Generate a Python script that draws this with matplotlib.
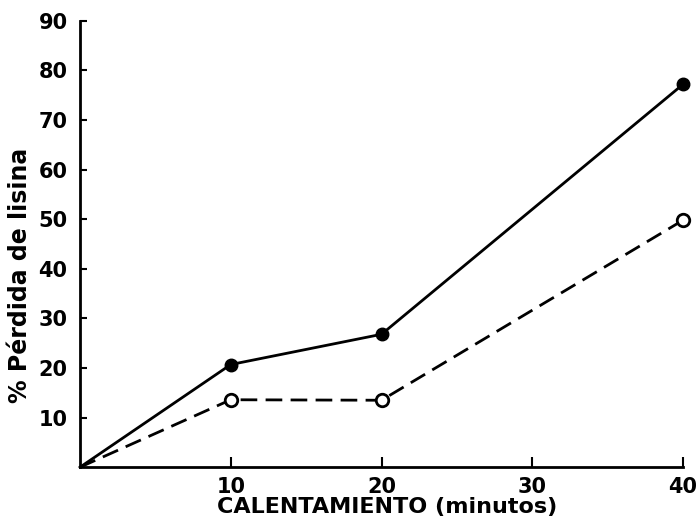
import matplotlib.pyplot as plt

# heating time (minutes) and lysine loss (%)
minutos = [0, 10, 20, 40]
perdida_a = [0, 20.7, 26.8, 77.2]   # solid line, filled markers
perdida_b = [0, 13.6, 13.5, 49.8]   # dashed line, open markers

x_ticks = [10, 20, 30, 40]
y_ticks = [10, 20, 30, 40, 50, 60, 70, 80, 90]

plt.rcParams['font.family'] = ['DejaVu Sans']

fig = plt.figure(figsize=(7, 5.22), dpi=100)
ax = fig.add_axes([0.1143, 0.105, 0.8614, 0.855])

ax.plot(minutos[1:], perdida_a[1:], ls='none', marker='o', ms=9,
        mfc='black', mec='black', zorder=3, clip_on=False)
ax.plot(minutos, perdida_a, color='black', lw=2.0, clip_on=False)
ax.plot(minutos[1:], perdida_b[1:], ls='none', marker='o', ms=9,
        mfc='white', mec='black', mew=2.0, zorder=3, clip_on=False)
ax.plot(minutos, perdida_b, color='black', lw=2.0, dashes=(6, 3),
        clip_on=False)

ax.set_xlim(0, 40)
ax.set_ylim(0, 90)
ax.set_xticks(x_ticks)
ax.set_yticks(y_ticks)
ax.tick_params(axis='x', direction='in', length=7, width=1.5,
               labelsize=15, pad=7)
ax.tick_params(axis='y', direction='in', length=5, width=1.5,
               labelsize=15, pad=9)
for lab in ax.get_xticklabels() + ax.get_yticklabels():
    lab.set_fontweight('bold')

for side in ('top', 'right'):
    ax.spines[side].set_visible(False)
for side in ('left', 'bottom'):
    ax.spines[side].set_linewidth(2.0)

ax.set_xlabel('CALENTAMIENTO (minutos)', fontsize=16, fontweight='bold')
ax.xaxis.set_label_coords(0.51, -0.066)
ax.set_ylabel('% Pérdida de lisina', fontsize=17, fontweight='bold')
ax.yaxis.set_label_coords(-0.08, 0.43)

fig.savefig('out.png', dpi=100)
